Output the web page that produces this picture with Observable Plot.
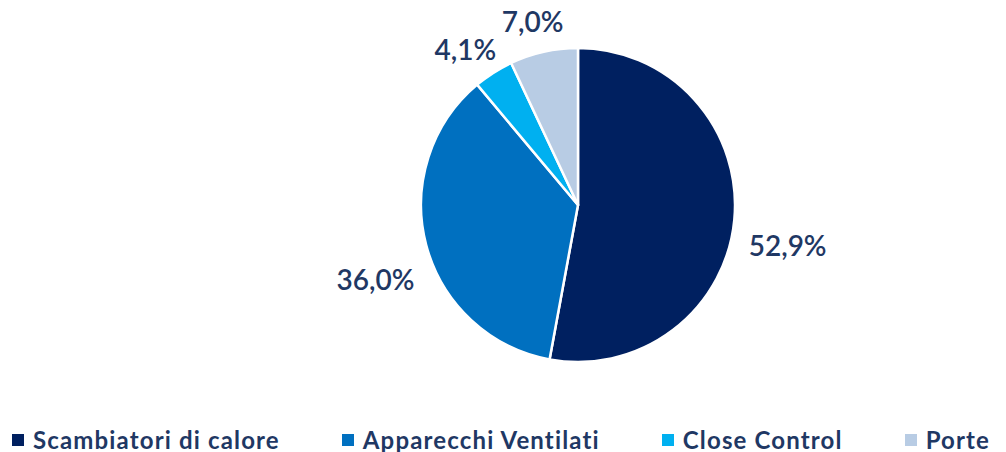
<!DOCTYPE html>
<html><head><meta charset="utf-8">
<script src="https://cdn.jsdelivr.net/npm/d3@7"></script>
<script src="https://cdn.jsdelivr.net/npm/@observablehq/plot@0.6"></script>
<style>
body{margin:0;background:#fff;font-family:Lato,"Open Sans",sans-serif;overflow:hidden;}
#chart svg{display:block;}
#legend{display:flex;gap:62px;padding-left:12px;padding-top:12px;height:25px;align-items:center;font-size:24px;line-height:1;font-weight:bold;letter-spacing:1.15px;color:#1F3864;white-space:nowrap;width:994px;}
.item{display:flex;align-items:center;}
.sw{width:12px;height:12px;margin-right:9px;flex:none;}
</style></head><body><div id="chart"></div><div id="legend"></div>
<script>
const categories = ["Scambiatori di calore","Apparecchi Ventilati","Close Control","Porte"];
const values = [52.9, 36.0, 4.1, 7.0];
const labels = ["52,9%","36,0%","4,1%","7,0%"];
const colors = ["#002060","#0070C0","#00B0F0","#B8CCE4"];

const W = 1006, H = 415, CX = 578, CY = 205, R = 157, RL = 210;
const color = (Plot.scale ? Plot.scale({color: {type: "ordinal", domain: categories, range: colors}}) : null);
const colorFn = color && color.apply ? (c) => color.apply(c) : d3.scaleOrdinal(categories, colors);

const rows = categories.map((c, i) => ({category: c, value: values[i], label: labels[i]}));
const arcs = d3.pie().sort(null).value(d => d.value).startAngle(0).endAngle(2 * Math.PI)(rows);
const labelRows = arcs.map(a => {
  const m = (a.startAngle + a.endAngle) / 2;
  return {label: a.data.label, x: CX + RL * Math.sin(m), y: CY - RL * Math.cos(m)};
});

function pieMark(index, scales) {
  const sx = scales && scales.x ? scales.x : (v => v);
  const sy = scales && scales.y ? scales.y : (v => v);
  const cx = sx(CX), cy = sy(CY), r = sx(CX + R) - sx(CX);
  const arc = d3.arc().innerRadius(0).outerRadius(r);
  const g = d3.create("svg:g").attr("transform", `translate(${cx},${cy})`);
  g.selectAll("path").data(arcs).join("path")
    .attr("d", arc)
    .attr("fill", d => colorFn(d.data.category))
    .attr("stroke", "#fff")
    .attr("stroke-width", 2.5)
    .attr("stroke-linejoin", "round");
  return g.node();
}

const plot = Plot.plot({
  width: W, height: H,
  margin: 0,
  x: {domain: [0, W], range: [0, W], axis: null},
  y: {domain: [0, H], range: [0, H], axis: null},
  style: {background: "#fff", fontFamily: "Lato, 'Open Sans', sans-serif"},
  marks: [
    pieMark,
    Plot.text(labelRows, {x: "x", y: "y", text: "label", dy: 22, fill: "#1F3864", fontSize: 28, fontWeight: 600})
  ]
});
document.getElementById("chart").appendChild(plot);

const legend = d3.select("#legend");
const items = legend.selectAll(".item").data(categories).join("div").attr("class", "item");
items.append("div").attr("class", "sw").style("background", d => colorFn(d));
items.append("span").text(d => d);
</script>
</body></html>
